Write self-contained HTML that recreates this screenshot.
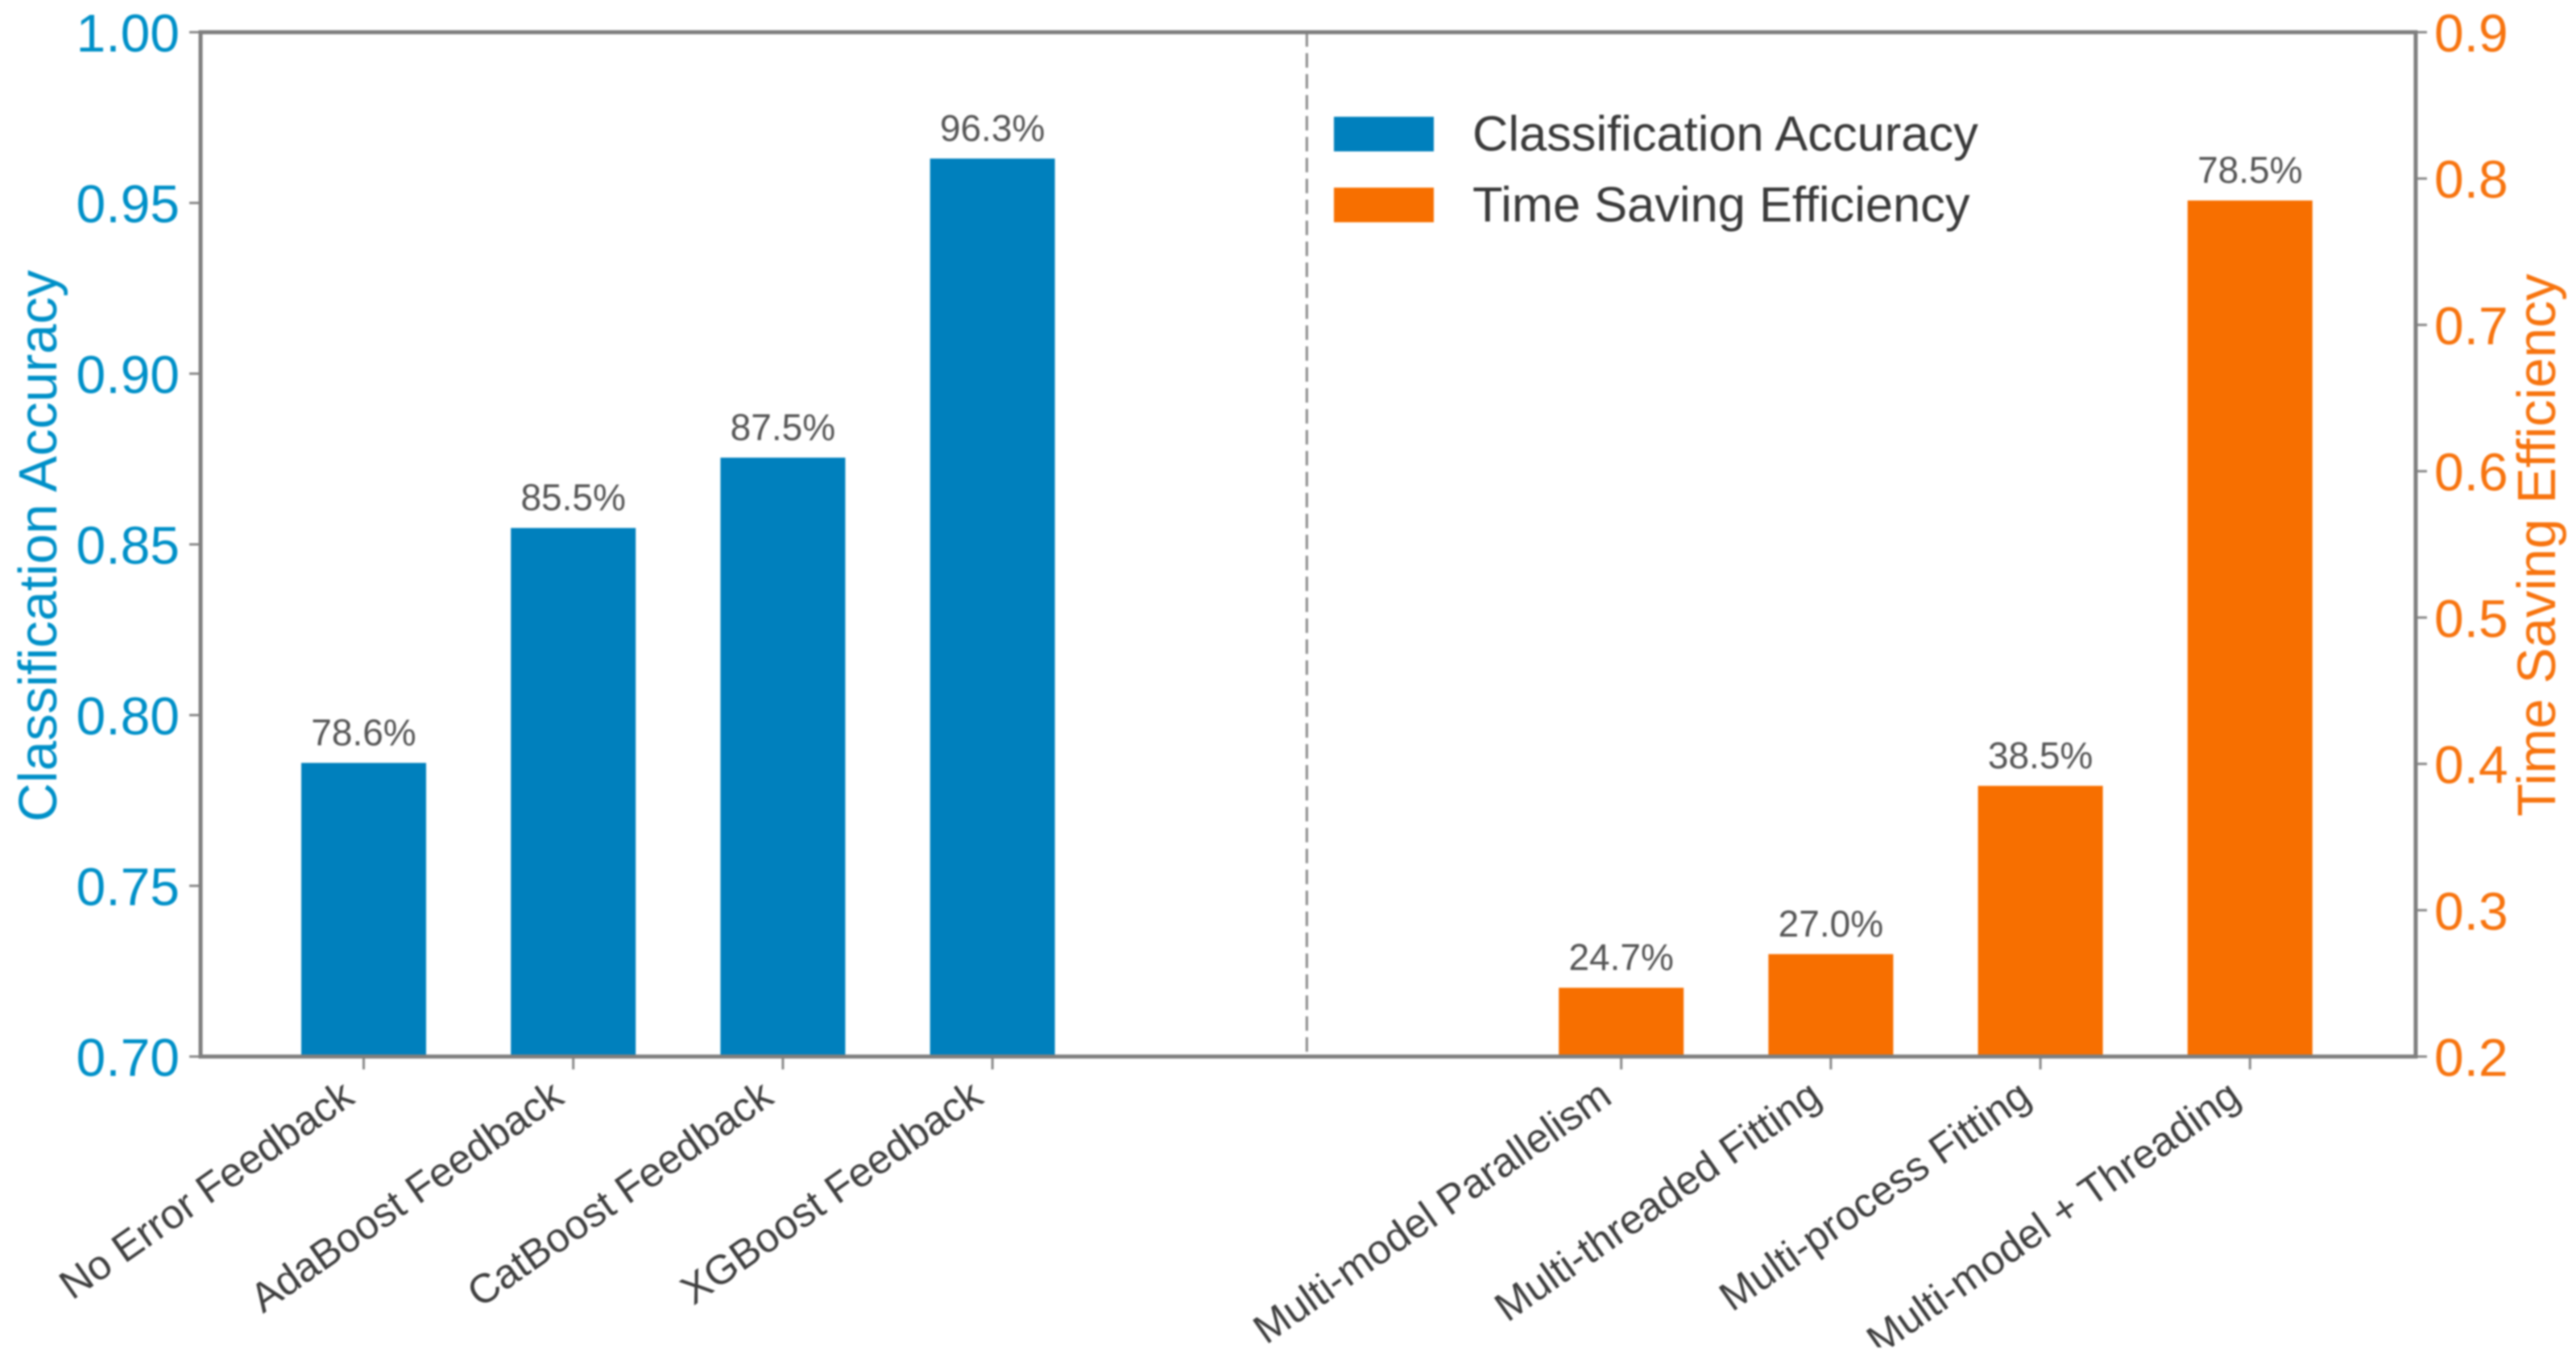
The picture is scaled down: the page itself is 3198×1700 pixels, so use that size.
<!DOCTYPE html>
<html lang="en">
<head>
<meta charset="utf-8">
<title>Classification Accuracy and Time Saving Efficiency</title>
<style>
html,body{margin:0;padding:0;background:#fff;width:3198px;height:1700px;overflow:hidden}
svg{display:block;filter:blur(1.1px);font-family:"Liberation Sans",Arial,sans-serif}
</style>
</head>
<body>
<svg id="chart" xmlns="http://www.w3.org/2000/svg" width="3198" height="1700" viewBox="0 0 3198 1700">
  <rect x="0" y="0" width="3198" height="1700" fill="#ffffff"/>
  <g id="bars"></g>
  <g id="value-labels"></g>
  <g id="x-axis"></g>
  <rect x="0" y="1673" width="3198" height="27" fill="#ffffff"/>
  <g id="y-axis-left"></g>
  <g id="y-axis-right"></g>
  <line id="divider" stroke="#8c8c8c" stroke-width="3" stroke-dasharray="18 8"/>
  <rect id="spine-frame" fill="none" stroke="#7f7f7f" stroke-width="5"/>
  <text transform="translate(70 678) rotate(-90)" text-anchor="middle" font-size="67" fill="#0090c8">Classification Accuracy</text>
  <text transform="translate(3172 677) rotate(-90)" text-anchor="middle" font-size="67" fill="#f7740f">Time Saving Efficiency</text>
  <g>
    <g>
      <rect x="1656" y="145" width="124" height="43" fill="#0080bd"/>
      <text x="1828" y="187" font-size="61.4" fill="#3a3a3a">Classification Accuracy</text>
    </g>
    <g>
      <rect x="1656" y="233" width="124" height="43" fill="#f76f00"/>
      <text x="1828" y="275" font-size="61.4" fill="#3a3a3a">Time Saving Efficiency</text>
    </g>
  </g>
</svg>
<script>
const accuracyCategories = ["No Error Feedback", "AdaBoost Feedback", "CatBoost Feedback", "XGBoost Feedback"];
const accuracySlots = [0, 1, 2, 3];
const accuracyValues = [0.786, 0.8548, 0.8754, 0.963];
const efficiencyCategories = ["Multi-model Parallelism", "Multi-threaded Fitting", "Multi-process Fitting", "Multi-model + Threading"];
const efficiencySlots = [6, 7, 8, 9];
const efficiencyValues = [0.247, 0.27, 0.385, 0.785];
const leftTickLabels = ["0.70", "0.75", "0.80", "0.85", "0.90", "0.95", "1.00"];
const rightTickLabels = ["0.2", "0.3", "0.4", "0.5", "0.6", "0.7", "0.8", "0.9"];
const dividerSlot = 4.5;

const NS = "http://www.w3.org/2000/svg";
const plot = { left: 249, right: 2999, top: 40, bottom: 1312 };
const xOrigin = 451.5, slotStep = 260.2, barWidth = 155;
const xScale = function (slot) { return xOrigin + slot * slotStep; };
const makeLinear = function (d0, d1) {
  return function (v) { return plot.bottom - (v - d0) / (d1 - d0) * (plot.bottom - plot.top); };
};
const yLeft = makeLinear(0.7, 1.0);
const yRight = makeLinear(0.2, 0.9);

function make(tag, attrs, parent) {
  const el = document.createElementNS(NS, tag);
  Object.keys(attrs).forEach(function (k) { el.setAttribute(k, attrs[k]); });
  parent.appendChild(el);
  return el;
}
function slug(s) { return s.toLowerCase().replace(/[^a-z0-9]+/g, "-").replace(/^-|-$/g, ""); }

const barsG = document.getElementById("bars");
const labelsG = document.getElementById("value-labels");
const xG = document.getElementById("x-axis");
const yLG = document.getElementById("y-axis-left");
const yRG = document.getElementById("y-axis-right");

function drawSeries(categories, slots, values, yFn, color) {
  categories.forEach(function (cat, i) {
    const cx = xScale(slots[i]);
    const top = yFn(values[i]);
    const bar = make("rect", { x: cx - barWidth / 2, y: top, width: barWidth, height: plot.bottom - top, fill: color }, barsG);
    
    

    const val = make("text", { x: cx, y: top - 22, "text-anchor": "middle", "font-size": 46, fill: "#555555" }, labelsG);
    
    
    val.textContent = (values[i] * 100).toFixed(1) + "%";

    const tick = make("line", { x1: cx, x2: cx, y1: plot.bottom, y2: plot.bottom + 16, stroke: "#8a8a8a", "stroke-width": 3 }, xG);
    
    

    const lab = make("text", { transform: "translate(" + (cx - 9) + " " + (plot.bottom + 56) + ") rotate(-35)", "text-anchor": "end", "font-size": 51, fill: "#3f3f3f" }, xG);
    
    
    lab.textContent = cat;
  });
}
drawSeries(accuracyCategories, accuracySlots, accuracyValues, yLeft, "#0080bd");
drawSeries(efficiencyCategories, efficiencySlots, efficiencyValues, yRight, "#f76f00");

leftTickLabels.forEach(function (t) {
  const y = yLeft(parseFloat(t));
  const tick = make("line", { x1: plot.left - 14, x2: plot.left, y1: y, y2: y, stroke: "#8a8a8a", "stroke-width": 3 }, yLG);
  
  
  const lab = make("text", { x: 223, y: y + 24, "text-anchor": "end", "font-size": 66, fill: "#0090c8" }, yLG);
  
  
  lab.textContent = t;
});
rightTickLabels.forEach(function (t) {
  const y = yRight(parseFloat(t));
  const tick = make("line", { x1: plot.right, x2: plot.right + 14, y1: y, y2: y, stroke: "#8a8a8a", "stroke-width": 3 }, yRG);
  
  
  const lab = make("text", { x: 3022, y: y + 24, "font-size": 66, fill: "#f7740f" }, yRG);
  
  
  lab.textContent = t;
});

const divider = document.getElementById("divider");
divider.setAttribute("x1", xScale(dividerSlot));
divider.setAttribute("x2", xScale(dividerSlot));
divider.setAttribute("y1", plot.top);
divider.setAttribute("y2", plot.bottom);

const frame = document.getElementById("spine-frame");
frame.setAttribute("x", plot.left);
frame.setAttribute("y", plot.top);
frame.setAttribute("width", plot.right - plot.left);
frame.setAttribute("height", plot.bottom - plot.top);
</script>
</body>
</html>
